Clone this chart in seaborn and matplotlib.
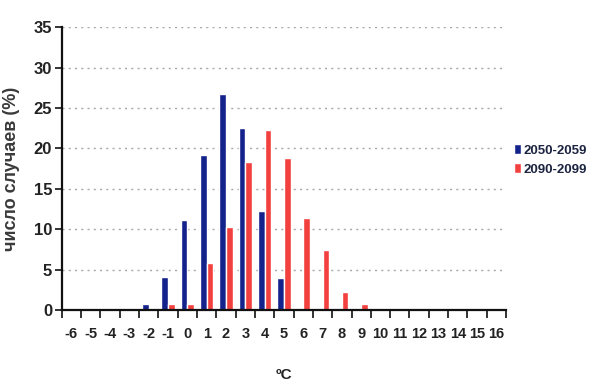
import matplotlib
matplotlib.use("Agg")
import matplotlib.pyplot as plt
import seaborn as sns
import pandas as pd
import numpy as np

# Temperature anomaly bins (°C)
categories = list(range(-6, 17))

# Share of cases (%) per bin for each period
series_2050 = [0, 0, 0, 0, 0.7, 4.1, 11.1, 19.2, 26.7, 22.5, 12.2, 3.9,
               0, 0, 0, 0, 0, 0, 0, 0, 0, 0, 0]
series_2090 = [0, 0, 0, 0, 0.2, 0.7, 0.7, 5.8, 10.3, 18.3, 22.3, 18.8,
               11.4, 7.4, 2.2, 0.8, 0, 0, 0, 0, 0, 0, 0]
series_names = ["2050-2059", "2090-2099"]
y_ticks = [0, 5, 10, 15, 20, 25, 30, 35]

colors = ["#14228c", "#f2403f"]

sns.set_theme(style="white")
plt.rcParams["font.family"] = ["Liberation Sans", "DejaVu Sans"]

df = pd.DataFrame({
    "bin": [str(c) for c in categories] * 2,
    "value": series_2050 + series_2090,
    "period": [series_names[0]] * len(categories) + [series_names[1]] * len(categories),
})

fig = plt.figure(figsize=(5.94, 3.88), dpi=100)
ax = fig.add_axes([0.104, 0.201, 0.748, 0.729])

sns.barplot(data=df, x="bin", y="value", hue="period", palette=colors,
            width=0.68, gap=0, dodge=True, ax=ax, saturation=1,
            order=[str(c) for c in categories], hue_order=series_names)

ax.set_ylim(0, 35)
ax.set_xlim(-0.5, len(categories) - 0.5)
ax.set_yticks(y_ticks)
ax.set_yticklabels([str(t) for t in y_ticks], fontsize=12, fontweight="bold",
                   color="#222222")
ax.set_xticks(range(len(categories)))
ax.set_xticklabels([str(c) for c in categories], fontsize=10.5, fontweight="bold",
                   color="#222222")

# tick marks sit between the bins
ax.set_xticks(np.arange(-0.5, len(categories), 1.0), minor=True)
ax.tick_params(axis="x", which="major", length=0, pad=12)
ax.tick_params(axis="x", which="minor", length=6, width=1.2, color="#111111",
               direction="out", bottom=True)
ax.tick_params(axis="y", which="major", length=5, width=1.2, color="#111111",
               direction="out", left=True, pad=2)

for y in y_ticks[1:]:
    ax.axhline(y, color="#a8a8a8", linestyle=(0, (1.5, 3)), linewidth=1.0, zorder=0)

for side in ["top", "right"]:
    ax.spines[side].set_visible(False)
for side in ["left", "bottom"]:
    ax.spines[side].set_color("#111111")
    ax.spines[side].set_linewidth(1.6)

ax.set_xlabel("ºC", fontsize=11, fontweight="bold", color="#222222", labelpad=20)
ax.set_ylabel("число случаев (%)", fontsize=13, fontweight="bold",
              color="#3a3a3a", labelpad=10)

handles, labels = ax.get_legend_handles_labels()
ax.legend(handles, labels, loc="center left", bbox_to_anchor=(0.99, 0.53),
          frameon=False, handlelength=0.6, handleheight=0.8,
          handletextpad=0.15, labelspacing=0.5,
          prop={"weight": "bold", "size": 9.5})
for t in ax.get_legend().get_texts():
    t.set_color("#1c2440")

fig.savefig("out.png", dpi=100)
